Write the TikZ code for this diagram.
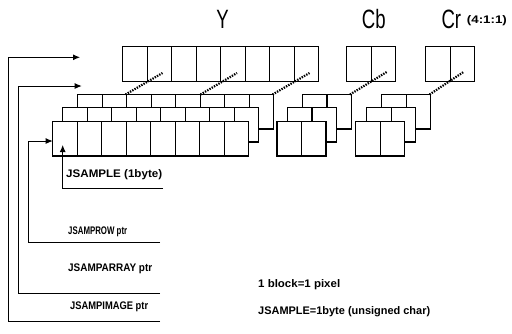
\documentclass[tikz,border=0pt]{standalone}
\usepackage{fontspec}
\usepackage{graphicx}
\setmainfont{Liberation Sans}
\newfontfamily\bigfont[FakeStretch=0.7]{Liberation Sans}
\usetikzlibrary{arrows.meta}
\tikzset{
 rowbox/.style={draw, fill=white, line width=1.1pt, minimum height=34.5pt, inner sep=0pt, outer sep=0pt, anchor=north west},
 divider/.style={line width=1.1pt},
 ptr/.style={line width=0.9pt},
 tip/.style={-{Latex[length=7pt,width=6pt]}},
 dots/.style={line width=2.2pt, dash pattern=on 1.4pt off 1.2pt},
 lab/.style={inner sep=0pt, anchor=west, font=\bfseries\fontsize{11}{13}\selectfont},
 big/.style={inner sep=0pt, font=\bigfont\fontsize{26.5}{30}\selectfont},
}
\newcommand\cellrow[4]{%
 \node[rowbox, minimum width=#4*24.5pt] (#1) at (#2,#3) {};
 \pgfmathtruncatemacro\nmin{#4-1}
 \foreach \k in {1,...,\nmin} {\draw[divider] (#1.north west) ++(\k*24.5,0) -- ++(0,34.5);}
}
\begin{document}
\begin{tikzpicture}[x=1pt,y=-1pt]
\useasboundingbox (0,0) rectangle (512,333);
% titles
\node[big] (ttlY) at (222.5,19.5) {Y};
\node[big] (ttlCb) at (373.8,19.5) {Cb};
\node[big] (ttlCr) at (451.3,19.5) {Cr};
\node[lab] (ratio) at (466.7,20.5) {\resizebox{40pt}{\height}{(4:1:1)}};
% top rows
\cellrow{ytop}{122.7}{46.7}{8}
\cellrow{cbtop}{346.7}{46.7}{2}
\cellrow{crtop}{425.7}{46.7}{2}
% Y stack
\cellrow{yback}{77.7}{94.5}{8}
\cellrow{ymid}{62.7}{107.5}{8}
\cellrow{yfront}{52.7}{121.5}{8}
% Cb stack
\cellrow{cbback}{302.5}{94.5}{2}
\cellrow{cbmid}{287.5}{107.5}{2}
\cellrow{cbfront}{277}{121.5}{2}
% Cr stack
\cellrow{crback}{381.7}{94.5}{2}
\cellrow{crmid}{366.7}{107.5}{2}
\cellrow{crfront}{355.7}{121.5}{2}
% dotted links
\coordinate (d1a) at (125.5,94.5); \coordinate (d1b) at (162.5,73);
\coordinate (d2a) at (200.5,94.5); \coordinate (d2b) at (237,73);
\coordinate (d3a) at (272.5,94.5); \coordinate (d3b) at (309.5,73);
\coordinate (d4a) at (350,94.5); \coordinate (d4b) at (386.7,72);
\coordinate (d5a) at (429.5,94.5); \coordinate (d5b) at (463.5,72);
\draw[dots] (d1a) -- (d1b);
\draw[dots] (d2a) -- (d2b);
\draw[dots] (d3a) -- (d3b);
\draw[dots] (d4a) -- (d4b);
\draw[dots] (d5a) -- (d5b);
% labels
\node[lab] (lsample) at (66,175) {\resizebox{96pt}{\height}{JSAMPLE (1byte)}};
\node[lab] (lrow) at (68,231.7) {\resizebox{59pt}{\height}{JSAMPROW ptr}};
\node[lab] (larray) at (68,268.3) {\resizebox{84pt}{\height}{JSAMPARRAY ptr}};
\node[lab] (limage) at (70,306.7) {\resizebox{78pt}{\height}{JSAMPIMAGE ptr}};
\node[lab] (lblock) at (258,285) {\resizebox{82pt}{\height}{1 block=1 pixel}};
\node[lab] (lbyte) at (258,311.7) {\resizebox{172pt}{\height}{JSAMPLE=1byte (unsigned char)}};
% pointer lines
\coordinate (imgE) at (160,321.7); \coordinate (imgT) at (80,57.3);
\coordinate (arrE) at (160,293.3); \coordinate (arrT) at (81.7,86);
\coordinate (rowE) at (160,242.7); \coordinate (rowT) at (yfront.west |- 0,141);
\coordinate (smpE) at (163,188.3); \coordinate (smpT) at (62.7,145);
\draw[ptr,tip] (imgE) -- (8.3,321.7) |- (imgT);
\draw[ptr,tip] (arrE) -- (18.3,293.3) |- (arrT);
\draw[ptr,tip] (rowE) -- (28.3,242.7) |- (rowT);
\draw[ptr,tip] (smpE) -| (smpT);
\end{tikzpicture}
\end{document}
